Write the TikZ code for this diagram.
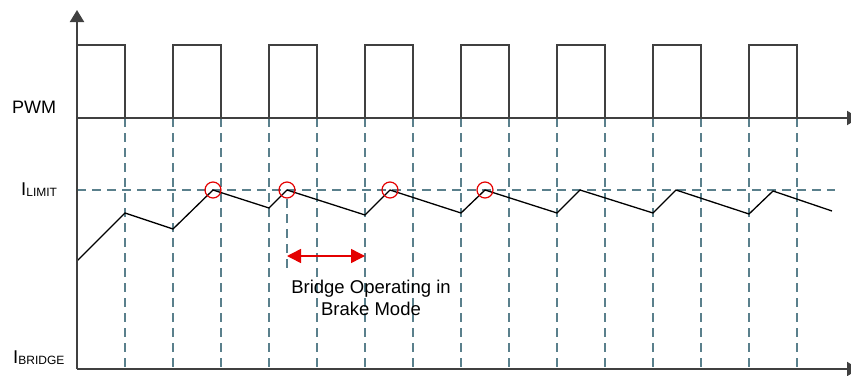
\documentclass[tikz,border=0pt]{standalone}
\usepackage{fontspec}
\setmainfont{Liberation Sans}
\usetikzlibrary{arrows.meta}

\definecolor{gridteal}{RGB}{90,128,140}
\definecolor{axisgray}{RGB}{64,64,64}
\definecolor{brakered}{RGB}{228,0,0}

\tikzset{
  axisline/.style={draw=axisgray, line width=2pt, -{Triangle[width=14pt,length=12pt]}},
  pwmline/.style={draw=axisgray, line width=1.5pt},
  gridline/.style={draw=gridteal, line width=1.8pt, dash pattern=on 9pt off 6pt},
  currentline/.style={draw=black, line width=1.3pt, line join=round},
  peakmark/.style={circle, draw=brakered, line width=1.2pt, minimum size=16pt, inner sep=0pt},
}

\begin{document}
\begin{tikzpicture}[x=1pt, y=-1pt]
        \useasboundingbox (0,0) rectangle (851,375);

        % axis points
        \coordinate (origin)  at (77,369);
        \coordinate (ytop)    at (77,10);
        \coordinate (xend)    at (859,369);
        \coordinate (pwmbase) at (77,118);
        \coordinate (pwmend)  at (859,118);

        % switching edges
        \foreach \x in {125,173,...,797}
          \draw[gridline] (\x,118) -- (\x,369);

        % current limit
        \coordinate (limitA) at (77,190);
        \coordinate (limitB) at (835,190);
        \draw[gridline] (limitA) -- (limitB);

        % bridge current
        \draw[currentline] (77,261) -- (125,213) -- (173,229) -- (213,190)
          -- (269,208) -- (287,190) -- (365,215) -- (390,190) -- (461,213)
          -- (485,190) -- (557,213) -- (580,190) -- (653,213) -- (676,190)
          -- (749,214) -- (773,191) -- (832,211);

        % PWM pulses
        \foreach \x in {77,173,...,749}
          \draw[pwmline] (\x,118) -- (\x,45) -- (\x+48,45) -- (\x+48,118);

        \draw[axisline] (origin) -- (ytop);
        \draw[axisline] (origin) -- (xend);
        \draw[axisline] (pwmbase) -- (pwmend);

        \begin{scope}[every node/.style={peakmark}]
          \node (peak1) at (213,190) {};
          \node (peak2) at (287,190) {};
          \node (peak3) at (390,190) {};
          \node (peak4) at (485,190) {};
        \end{scope}

        % brake interval
        \coordinate (brakeTop) at (287,199);
        \coordinate (brakeLow) at (287,272);
        \coordinate (brakeA)   at (287,256);
        \coordinate (brakeB)   at (365,256);
        \draw[gridline] (brakeTop) -- (brakeLow);
        \draw[brakered, line width=1.5pt,
              {Triangle[width=14pt,length=14pt]}-{Triangle[width=14pt,length=14pt]}]
              (brakeA) -- (brakeB);

        \begin{scope}[every node/.style={inner sep=0pt, anchor=base west}]
          \node (pwmlabel)    at (12,113)  {\fontsize{18}{18}\selectfont PWM};
          \node (limitlabel)  at (21,195)  {\fontsize{18.5}{18}\selectfont I\raisebox{-1pt}{\fontsize{12}{12}\selectfont LIMIT}};
          \node (bridgelabel) at (13,363)  {\fontsize{18.5}{18}\selectfont I\raisebox{-1pt}{\fontsize{12}{12}\selectfont BRIDGE}};
        \end{scope}

        \node[inner sep=0pt, align=center, font=\fontsize{18.5}{22}\selectfont, anchor=base]
          (brakenote) at (371,315) {Bridge Operating in\\Brake Mode};
      \end{tikzpicture}
\end{document}
